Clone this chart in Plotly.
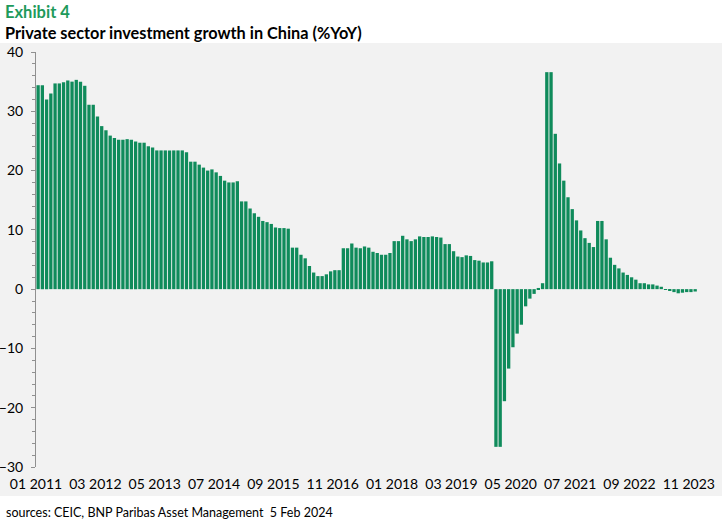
import pandas as pd
import plotly.graph_objects as go

# Private sector fixed asset investment, YTD %YoY (Jan shows the Jan-Feb figure)
y2011 = [34.4, 34.4, 32.0, 33.0, 34.7, 34.7, 34.9, 35.2, 35.0, 35.3, 35.0, 34.3]
y2012 = [31.1, 31.1, 29.1, 27.5, 26.8, 25.9, 25.5, 25.2, 25.2, 25.3, 25.2, 24.9]
y2013 = [24.7, 24.7, 24.1, 23.9, 23.4, 23.4, 23.4, 23.4, 23.4, 23.4, 23.4, 23.1]
y2014 = [21.5, 21.5, 21.0, 20.5, 20.0, 20.2, 19.7, 19.1, 18.3, 18.0, 18.0, 18.2]
y2015 = [14.8, 14.8, 13.6, 12.8, 12.2, 11.5, 11.3, 11.0, 10.4, 10.3, 10.3, 10.2]
y2016 = [7.0, 7.0, 5.8, 5.2, 3.9, 2.8, 2.2, 2.2, 2.5, 3.0, 3.2, 3.2]
y2017 = [6.9, 6.9, 7.7, 7.0, 6.9, 7.2, 7.0, 6.3, 6.1, 5.8, 5.8, 6.1]
y2018 = [8.1, 8.1, 9.0, 8.4, 8.1, 8.4, 8.9, 8.8, 8.8, 8.9, 8.8, 8.7]
y2019 = [7.6, 7.6, 6.4, 5.5, 5.4, 5.7, 5.6, 4.9, 4.8, 4.5, 4.5, 4.7]
y2020 = [-26.6, -26.6, -18.9, -13.4, -9.8, -7.5, -6.0, -2.9, -1.6, -0.8, 0.2, 1.0]
y2021 = [36.6, 36.6, 26.2, 21.2, 18.3, 15.5, 13.5, 11.6, 9.9, 8.6, 7.8, 7.1]
y2022 = [11.5, 11.5, 8.4, 5.3, 4.1, 3.5, 2.8, 2.4, 2.0, 1.6, 1.0, 1.0]
y2023 = [0.8, 0.8, 0.6, 0.4, -0.1, -0.2, -0.5, -0.7, -0.6, -0.5, -0.5, -0.4]

values = (y2011 + y2012 + y2013 + y2014 + y2015 + y2016 + y2017
          + y2018 + y2019 + y2020 + y2021 + y2022 + y2023)
months = pd.date_range('2011-01-01', periods=len(values), freq='MS')
month_labels = months.strftime('%m %Y').tolist()

tick_labels = ['01 2011', '03 2012', '05 2013', '07 2014', '09 2015', '11 2016',
               '01 2018', '03 2019', '05 2020', '07 2021', '09 2022', '11 2023']
tick_pos = [month_labels.index(t) - 0.5 for t in tick_labels]

green = '#0F8B5B'
panel = '#F2F2F2'
font = 'Lato'

# plot area in pixels (for placing the header / footer texts)
W, H = 725, 523
ml, mr, mt, mb = 36, 26, 52, 56
pw, ph = W - ml - mr, H - mt - mb


def px(x):
    return (x - ml) / pw


def py(y):
    return (H - mb - y) / ph


x = list(range(len(values)))
xrange_ = [-0.5, len(values) - 0.1]
yrange_ = [-30, 40]

fig = go.Figure()
fig.add_bar(
    x=x,
    y=values,
    customdata=month_labels,
    marker=dict(color=green, line=dict(width=0)),
    hovertemplate='%{customdata}: %{y:.1f}%<extra></extra>',
)

fig.update_layout(
    width=W,
    height=H,
    margin=dict(l=ml, r=mr, t=mt, b=mb, autoexpand=False),
    paper_bgcolor='white',
    plot_bgcolor='rgba(0,0,0,0)',
    bargap=0.22,
    showlegend=False,
    font=dict(family=font, size=13, color='black'),
    xaxis=dict(
        range=xrange_,
        tickvals=tick_pos,
        ticktext=tick_labels,
        showgrid=False,
        zeroline=False,
        showline=False,
        ticks='',
        automargin=False,
        ticklabelstandoff=7,
        tickfont=dict(size=14),
    ),
    # zero line with its small tick marks
    xaxis2=dict(
        overlaying='x',
        anchor='free',
        position=(0 - yrange_[0]) / (yrange_[1] - yrange_[0]),
        range=xrange_,
        tickvals=tick_pos,
        showticklabels=False,
        ticks='outside',
        ticklen=4,
        tickcolor='#333333',
        showline=True,
        linecolor='#555555',
        linewidth=1.5,
        showgrid=False,
        zeroline=False,
        automargin=False,
    ),
    yaxis=dict(
        range=yrange_,
        dtick=10,
        showgrid=False,
        zeroline=False,
        showline=True,
        linecolor='#909090',
        linewidth=1,
        ticks='outside',
        ticklen=4,
        tickcolor='#909090',
        minor=dict(dtick=2, ticks='outside', ticklen=3, tickcolor='#909090'),
        tickfont=dict(size=14),
        ticklabelstandoff=5,
        automargin=False,
    ),
    shapes=[dict(
        type='rect', xref='paper', yref='paper',
        x0=px(0), x1=px(722), y0=py(496), y1=py(43),
        fillcolor=panel, line=dict(width=0), layer='below',
    )],
    annotations=[
        dict(text='<b>Exhibit 4</b>', xref='paper', yref='paper',
             x=px(3), y=py(12), xanchor='left', yanchor='middle',
             showarrow=False, font=dict(size=16.5, color='#1E9A5B', family=font)),
        dict(text='<b>Private sector investment growth in China (%YoY)</b>',
             xref='paper', yref='paper',
             x=px(3), y=py(32), xanchor='left', yanchor='middle',
             showarrow=False, font=dict(size=16.3, color='black', family=font)),
        dict(text='sources: CEIC, BNP Paribas Asset Management  5 Feb 2024',
             xref='paper', yref='paper',
             x=px(4), y=py(512), xanchor='left', yanchor='middle',
             showarrow=False, font=dict(size=12.5, color='black', family=font)),
    ],
)

# drop the browser's default page margin so the figure sits at the top-left corner
fig.write_html('out.html', config={'displayModeBar': False},
               post_script="document.body.style.margin='0px';")
